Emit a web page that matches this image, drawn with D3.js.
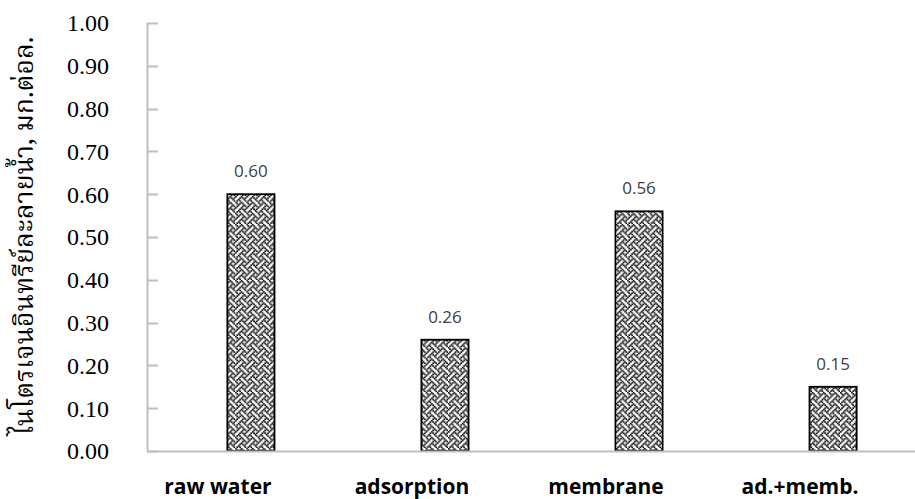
<!DOCTYPE html>
<html>
<head>
<meta charset="utf-8">
<script src="https://cdn.jsdelivr.net/npm/d3@7"></script>
<style>
  body { margin: 0; background: #fff; }
  svg { display: block; }
</style>
</head>
<body>
<svg id="chart" width="915" height="499"></svg>
<script>
const categories = ['raw water', 'adsorption', 'membrane', 'ad.+memb.'];
const values = [0.60, 0.26, 0.56, 0.15];
const yTicks = [0, 0.1, 0.2, 0.3, 0.4, 0.5, 0.6, 0.7, 0.8, 0.9, 1.0];
const yTitle = 'ไนโตรเจนอินทรีย์ละลายน้ำ, มก.ต่อล.';

// weave-like 8x8 bitmap used by the bar fill
const patternRows = [
  '10001000',
  '01010100',
  '00100010',
  '01000101',
  '10001000',
  '00010101',
  '00100010',
  '01010001',
];

const svg = d3.select('#chart');
const width = 915;
const plotLeft = 147;
const plotTop = 23;
const plotBottom = 451;

const x = d3.scaleBand().domain(categories).range([154, 930]).paddingInner(0.757).paddingOuter(0.378);
const y = d3.scaleLinear().domain([0, 1]).range([plotBottom, plotTop]);

const defs = svg.append('defs');
const pat = defs.append('pattern')
  .attr('id', 'weave')
  .attr('patternUnits', 'userSpaceOnUse')
  .attr('patternTransform', 'scale(1.4)')
  .attr('width', 8)
  .attr('height', 8);
pat.append('rect').attr('width', 8).attr('height', 8).attr('fill', '#fff');
patternRows.forEach((row, r) => {
  row.split('').forEach((c, col) => {
    if (c === '1') {
      pat.append('rect')
        .attr('x', col - 0.1).attr('y', r - 0.1)
        .attr('width', 1.2).attr('height', 1.2)
        .attr('fill', '#000');
    }
  });
});

// y axis line + inward ticks
svg.append('line')
  .attr('x1', plotLeft + 0.5).attr('x2', plotLeft + 0.5)
  .attr('y1', plotTop).attr('y2', plotBottom)
  .attr('stroke', '#bfbfbf').attr('stroke-width', 2);

svg.append('g')
  .selectAll('line')
  .data(yTicks)
  .join('line')
  .attr('x1', plotLeft).attr('x2', plotLeft + 11)
  .attr('y1', (d) => Math.round(y(d)) + 0.5)
  .attr('y2', (d) => Math.round(y(d)) + 0.5)
  .attr('stroke', '#bfbfbf').attr('stroke-width', 2);

svg.append('g')
  .selectAll('text')
  .data(yTicks)
  .join('text')
  .attr('x', 109)
  .attr('y', (d) => y(d))
  .attr('dy', '0.35em')
  .attr('text-anchor', 'end')
  .attr('font-family', '"Liberation Serif", "Times New Roman", serif')
  .attr('font-size', 24)
  .attr('fill', '#000')
  .text((d) => d.toFixed(2));

// bars
svg.append('g')
  .selectAll('rect')
  .data(values)
  .join('rect')
  .attr('x', (d, i) => x(categories[i]))
  .attr('y', (d) => y(d))
  .attr('width', x.bandwidth())
  .attr('height', (d) => plotBottom - y(d))
  .attr('fill', 'url(#weave)')
  .attr('stroke', '#000')
  .attr('stroke-width', 1.8);

// x axis line
svg.append('line')
  .attr('x1', plotLeft).attr('x2', width)
  .attr('y1', plotBottom + 0.5).attr('y2', plotBottom + 0.5)
  .attr('stroke', '#bfbfbf').attr('stroke-width', 2);

// value labels
svg.append('g')
  .selectAll('text')
  .data(values)
  .join('text')
  .attr('x', (d, i) => x(categories[i]) + x.bandwidth() / 2)
  .attr('y', (d) => y(d) - 17)
  .attr('text-anchor', 'middle')
  .attr('font-family', '"Open Sans", "Noto Sans", sans-serif')
  .attr('font-size', 17)
  .attr('fill', '#404040')
  .text((d) => d.toFixed(2));

// category labels
svg.append('g')
  .selectAll('text')
  .data(categories)
  .join('text')
  .attr('x', (d) => x(d) + x.bandwidth() / 2 - 33)
  .attr('y', 494)
  .attr('text-anchor', 'middle')
  .attr('font-family', '"Open Sans", "Noto Sans", sans-serif')
  .attr('font-weight', 'bold')
  .attr('font-size', 21)
  .attr('fill', '#000')
  .text((d) => d);

// y axis title
svg.append('text')
  .attr('transform', 'translate(33, 236) rotate(-90)')
  .attr('text-anchor', 'middle')
  .attr('font-family', '"Noto Serif Thai", "Noto Sans Thai", "Liberation Serif", serif')
  .attr('font-size', 26.5)
  .attr('fill', '#000')
  .text(yTitle);
</script>
</body>
</html>
